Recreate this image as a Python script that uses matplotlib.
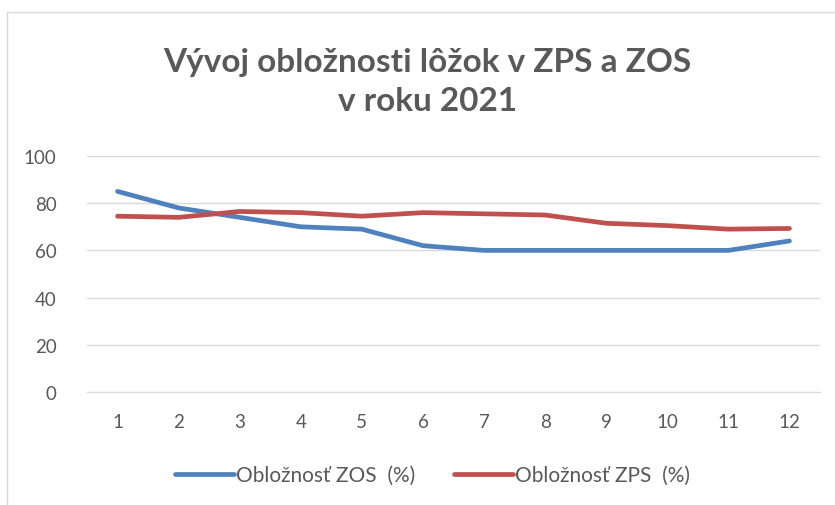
import matplotlib.pyplot as plt
from matplotlib.patches import Rectangle

# monthly occupancy values
months = [1, 2, 3, 4, 5, 6, 7, 8, 9, 10, 11, 12]
zos = [85, 78, 74, 70, 69, 62, 60, 60, 60, 60, 60, 64]
zps = [74.5, 74, 76.5, 76, 74.5, 76, 75.5, 75, 71.5, 70.5, 69, 69.3]
yticks = [0, 20, 40, 60, 80, 100]

plt.rcParams['font.family'] = ['Lato', 'DejaVu Sans']
grey = '#595959'

fig = plt.figure(figsize=(8.35, 5.06), dpi=100)
fig.patches.append(Rectangle((7 / 835, -0.1), 1.0, 1 - 13 / 506 + 0.1,
                             transform=fig.transFigure, fill=False,
                             edgecolor='#D9D9D9', lw=1))

ax = fig.add_axes([87 / 835, 113 / 506, 733 / 835, 236 / 506])
ax.plot(months, zos, color='#4F81BD', lw=3.4, solid_capstyle='round',
        label='Obložnosť ZOS  (%)')
ax.plot(months, zps, color='#C0504D', lw=3.4, solid_capstyle='round',
        label='Obložnosť ZPS  (%)')

ax.set_xlim(0.5, 12.5)
ax.set_ylim(0, 100)
ax.set_xticks(months)
ax.set_yticks(yticks)
ax.grid(axis='y', color='#D9D9D9', lw=1)
ax.set_axisbelow(True)
for s in ['top', 'right', 'left']:
    ax.spines[s].set_visible(False)
ax.spines['bottom'].set_color('#D9D9D9')
ax.tick_params(length=0, labelsize=13.5, labelcolor=grey)
ax.tick_params(axis='y', pad=22)
ax.tick_params(axis='x', pad=15)

fig.text(0.512, 1 - 82 / 506, 'Vývoj obložnosti lôžok v ZPS a ZOS\nv roku 2021',
         ha='center', va='center', fontsize=24, fontweight='bold',
         color=grey, linespacing=1.45)

fig.legend(loc='center', bbox_to_anchor=(0.518, 1 - 476 / 506), ncol=2,
           frameon=False, fontsize=15, handlelength=2.8, handletextpad=0.1,
           columnspacing=1.9, labelcolor=grey)

fig.savefig('out.png', dpi=100)
